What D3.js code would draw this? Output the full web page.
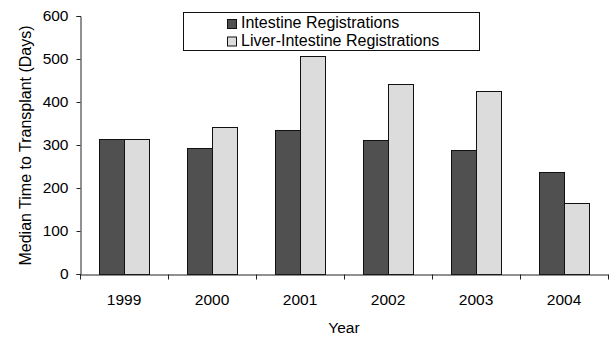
<!DOCTYPE html>
<html>
<head>
<meta charset="utf-8">
<script src="https://cdn.jsdelivr.net/npm/d3@7"></script>
<style>
  body { margin: 0; background: #fff; }
  svg { display: block; font-family: Arial, "Liberation Sans", sans-serif; }
</style>
</head>
<body>
<div id="chart"></div>
<script>
// data
const years = ["1999", "2000", "2001", "2002", "2003", "2004"]
const seriesNames = ["Intestine Registrations", "Liver-Intestine Registrations"]
const intestine = [313, 294, 334, 311, 289, 237]
const liverIntestine = [315, 343, 508, 443, 426, 164]
const yTicks = [0, 100, 200, 300, 400, 500, 600]
const colors = ["#505050", "#dcdcdc"]

const dataset = years.map((y, i) => ({
    year: y,
    values: [intestine[i], liverIntestine[i]]
}))

// dimensions
let dimensions = {
    width: 610,
    height: 337,
    margin: { top: 16, right: 2, bottom: 63, left: 80 }
}
dimensions.boundedWidth = dimensions.width - dimensions.margin.left - dimensions.margin.right
dimensions.boundedHeight = dimensions.height - dimensions.margin.top - dimensions.margin.bottom

const wrapper = d3.select("#chart")
    .append("svg")
    .attr("width", dimensions.width)
    .attr("height", dimensions.height)

const bounds = wrapper.append("g")
    .attr("transform", `translate(${dimensions.margin.left},${dimensions.margin.top})`)

// scales
const xScale = d3.scaleBand()
    .domain(years)
    .range([0, dimensions.boundedWidth])
    .padding(0)

const innerScale = d3.scaleBand()
    .domain([0, 1])
    .range([0, xScale.bandwidth()])
    .paddingInner(0)
    .paddingOuter(0.76)

const yScale = d3.scaleLinear()
    .domain([0, 600])
    .range([dimensions.boundedHeight, 0])

// bars
const groups = bounds.selectAll(".group")
    .data(dataset)
    .join("g")
    .attr("class", "group")
    .attr("transform", d => `translate(${xScale(d.year)},0)`)

groups.selectAll("rect")
    .data(d => d.values.map((v, i) => ({ v, i })))
    .join("rect")
    .attr("x", d => innerScale(d.i) + 0.5)
    .attr("y", d => Math.round(yScale(d.v)) + 0.5)
    .attr("width", innerScale.bandwidth())
    .attr("height", d => dimensions.boundedHeight - Math.round(yScale(d.v)))
    .attr("fill", d => colors[d.i])
    .attr("stroke", "#111")
    .attr("stroke-width", 1)

// axes
const yAxis = bounds.append("g")
    .attr("transform", "translate(0.5,0)")
    .call(d3.axisLeft(yScale).tickValues(yTicks).tickSize(4).tickPadding(8))
yAxis.selectAll("path, line").attr("stroke", "#222")
yAxis.selectAll("text")
    .attr("fill", "#000")
    .style("font-size", "15.5px")
    .style("font-family", "Arial, 'Liberation Sans', sans-serif")

const xAxis = bounds.append("g")
    .attr("transform", `translate(0,${dimensions.boundedHeight + 0.5})`)
    .call(d3.axisBottom(xScale).tickSize(0).tickPadding(19))
xAxis.select(".domain").attr("stroke", "#222")
xAxis.selectAll("text")
    .attr("fill", "#000")
    .style("font-size", "15.5px")
    .style("font-family", "Arial, 'Liberation Sans', sans-serif")

// boundary ticks between categories
const boundaries = years.map(y => xScale(y)).concat([dimensions.boundedWidth])
xAxis.selectAll(".bnd")
    .data(boundaries)
    .join("line")
    .attr("class", "bnd")
    .attr("x1", d => Math.round(d) + 0.5)
    .attr("x2", d => Math.round(d) + 0.5)
    .attr("y1", 0)
    .attr("y2", 5)
    .attr("stroke", "#222")

// axis labels
wrapper.append("text")
    .attr("x", dimensions.margin.left + dimensions.boundedWidth / 2 - 0)
    .attr("y", 333)
    .attr("text-anchor", "middle")
    .style("font-size", "15.5px")
    .text("Year")

wrapper.append("text")
    .attr("transform", `translate(31,145.5) rotate(-90)`)
    .attr("text-anchor", "middle")
    .style("font-size", "16px")
    .text("Median Time to Transplant (Days)")

// legend
const legendGroup = wrapper.append("g")

legendGroup.append("rect")
    .attr("x", 183.5)
    .attr("y", 12.5)
    .attr("width", 296)
    .attr("height", 38)
    .attr("fill", "#fff")
    .attr("stroke", "#111")

const legendItems = legendGroup.selectAll(".item")
    .data(seriesNames)
    .join("g")
    .attr("class", "item")
    .attr("transform", (d, i) => `translate(227,${19 + i * 17.5})`)

legendItems.append("rect")
    .attr("x", 0.5)
    .attr("y", 0.5)
    .attr("width", 9)
    .attr("height", 9)
    .attr("fill", (d, i) => colors[i])
    .attr("stroke", "#111")

legendItems.append("text")
    .attr("x", 14)
    .attr("y", 9)
    .style("font-size", "16px")
    .text(d => d)
</script>
</body>
</html>
